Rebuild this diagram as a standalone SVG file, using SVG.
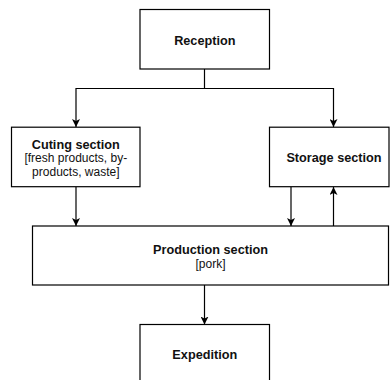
<svg xmlns="http://www.w3.org/2000/svg" width="390" height="380" viewBox="0 0 390 380">
  <style>
    .box { fill: #ffffff; stroke: #000000; stroke-width: 1.2; }
    .edge { fill: none; stroke: #000000; stroke-width: 1.2; }
    .title { font-family: "Liberation Sans", Arial, sans-serif; font-size: 12.7px; font-weight: bold; fill: #111111; text-anchor: middle; }
    .sub { font-family: "Liberation Sans", Arial, sans-serif; font-size: 12px; fill: #111111; text-anchor: middle; }
  </style>
  <defs>
    <marker id="arrow" viewBox="0 0 10 10" refX="10" refY="5" markerWidth="8" markerHeight="8" markerUnits="userSpaceOnUse" orient="auto">
      <path d="M0,0 L10,5 L0,10 L2.5,5 Z" fill="#000000"/>
    </marker>
  </defs>
  <rect width="390" height="380" fill="#ffffff"/>

  <g id="connectors">
    <path class="edge" d="M204.5,69 V88.5 H76 V127" marker-end="url(#arrow)"/>
    <path class="edge" d="M204.5,88.5 H333.5 V127" marker-end="url(#arrow)"/>
    <path class="edge" d="M76,187 V226" marker-end="url(#arrow)"/>
    <path class="edge" d="M291,187 V226" marker-end="url(#arrow)"/>
    <path class="edge" d="M333.5,226 V187" marker-end="url(#arrow)"/>
    <path class="edge" d="M204.5,285 V324.5" marker-end="url(#arrow)"/>
  </g>

  <g id="reception">
    <rect class="box" x="140" y="9.5" width="129.5" height="59.5"/>
    <text class="title" x="204.8" y="44.5">Reception</text>
  </g>

  <g id="cutting">
    <rect class="box" x="11.5" y="127.2" width="128.5" height="59.5"/>
    <text class="title" x="75.8" y="148.5">Cuting section</text>
    <text class="sub" x="75.8" y="162">[fresh products, by-</text>
    <text class="sub" x="75.8" y="175.5">products, waste]</text>
  </g>

  <g id="storage">
    <rect class="box" x="269.5" y="127.2" width="119.5" height="59.5"/>
    <text class="title" x="334" y="162">Storage section</text>
  </g>

  <g id="production">
    <rect class="box" x="32.5" y="226" width="356" height="59"/>
    <text class="title" x="210.5" y="253.5">Production section</text>
    <text class="sub" x="210.5" y="268">[pork]</text>
  </g>

  <g id="expedition">
    <rect class="box" x="140" y="324.5" width="129.5" height="70"/>
    <text class="title" x="204.8" y="358.8">Expedition</text>
  </g>
</svg>
